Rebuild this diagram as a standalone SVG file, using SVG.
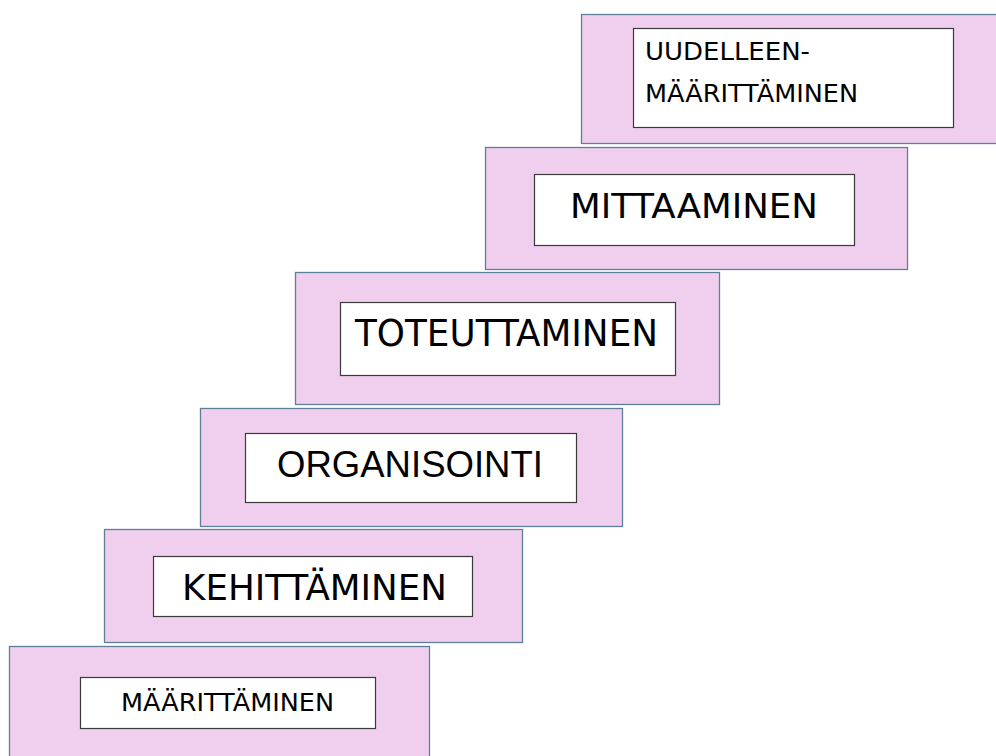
<svg xmlns="http://www.w3.org/2000/svg" width="996" height="756" viewBox="0 0 996 756">
<style>
.outer{fill:#f0cfee;stroke:#5f7f99;stroke-width:1.3}
.inner{fill:#ffffff;stroke:#3a3a3a;stroke-width:1.2}
.t{font-family:"DejaVu Sans","Verdana",sans-serif;fill:#000}
.a{font-family:"Liberation Sans",Arial,sans-serif;fill:#000}
</style>
<rect width="996" height="756" fill="#ffffff"/>
<g id="step6">
<rect class="outer" x="9.5" y="646.5" width="420" height="115"/>
<rect class="inner" x="80.5" y="677.5" width="295" height="51"/>
<text class="t" x="121" y="711" font-size="24.5" textLength="213" lengthAdjust="spacingAndGlyphs">MÄÄRITTÄMINEN</text>
</g>
<g id="step5">
<rect class="outer" x="104.5" y="529.5" width="418" height="113"/>
<rect class="inner" x="153.5" y="556.5" width="319" height="60"/>
<text class="t" x="182" y="600" font-size="35" textLength="265" lengthAdjust="spacingAndGlyphs">KEHITTÄMINEN</text>
</g>
<g id="step4">
<rect class="outer" x="200.5" y="408.5" width="422" height="118"/>
<rect class="inner" x="245.5" y="433.5" width="331" height="69"/>
<text class="a" x="277" y="477" font-size="37" textLength="266" lengthAdjust="spacingAndGlyphs">ORGANISOINTI</text>
</g>
<g id="step3">
<rect class="outer" x="295.5" y="272.5" width="424" height="132"/>
<rect class="inner" x="340.5" y="302.5" width="335" height="73"/>
<text class="t" x="355" y="346" font-size="38" textLength="303" lengthAdjust="spacingAndGlyphs">TOTEUTTAMINEN</text>
</g>
<g id="step2">
<rect class="outer" x="485.5" y="147.5" width="422" height="122"/>
<rect class="inner" x="534.5" y="174.5" width="320" height="71"/>
<text class="t" x="570" y="218" font-size="34" textLength="248" lengthAdjust="spacingAndGlyphs">MITTAAMINEN</text>
</g>
<g id="step1">
<rect class="outer" x="581.5" y="14.5" width="420" height="129"/>
<rect class="inner" x="633.5" y="28.5" width="320" height="99"/>
<text class="t" font-size="24.5"><tspan x="645" y="60" textLength="165" lengthAdjust="spacingAndGlyphs">UUDELLEEN-</tspan><tspan x="645" y="102" textLength="213" lengthAdjust="spacingAndGlyphs">MÄÄRITTÄMINEN</tspan></text>
</g>
<g id="connectors"></g>
</svg>
